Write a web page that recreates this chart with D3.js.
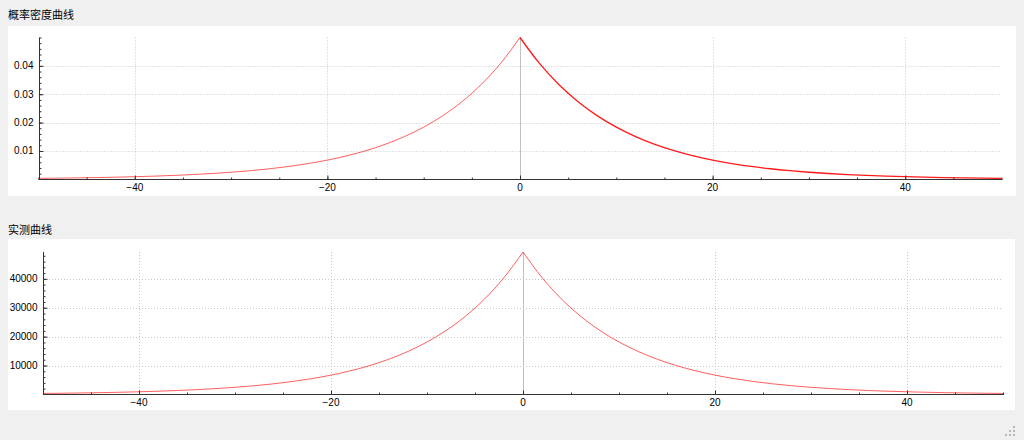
<!DOCTYPE html>
<html>
<head>
<meta charset="utf-8">
<script src="https://cdn.jsdelivr.net/npm/d3@7/dist/d3.min.js"></script>
<style>
  html, body { margin: 0; padding: 0; background: #f0f0f0; }
  svg { display: block; }
  text { font-family: "Liberation Sans", Arial, sans-serif; }
</style>
</head>
<body>
<svg id="chart" width="1024" height="440"></svg>
<script>
// ---- data ----
const titles = ["概率密度曲线", "实测曲线"];
const xValues = [-50,-48,-46,-44,-42,-40,-38,-36,-34,-32,-30,-28,-26,-24,-22,-20,-18,-16,-14,-12,-10,-8,-6,-4,-2,
                 0,2,4,6,8,10,12,14,16,18,20,22,24,26,28,30,32,34,36,38,40,42,44,46,48,50];
const densityValues = [0.000337,0.000411,0.000503,0.000614,0.000750,0.000916,0.001119,0.001366,0.001669,0.002038,
                       0.002489,0.003041,0.003714,0.004536,0.005540,0.006767,0.008265,0.010095,0.012330,0.015060,
                       0.018394,0.022466,0.027441,0.033516,0.040937,
                       0.05,
                       0.040937,0.033516,0.027441,0.022466,0.018394,0.015060,0.012330,0.010095,0.008265,0.006767,
                       0.005540,0.004536,0.003714,0.003041,0.002489,0.002038,0.001669,0.001366,0.001119,0.000916,
                       0.000750,0.000614,0.000503,0.000411,0.000337];
const measuredValues = [332,405,496,605,740,903,1103,1347,1646,2010,
                        2455,2998,3662,4472,5462,6672,8149,9954,12157,14849,
                        18137,22152,27057,33047,40364,
                        49300,
                        40364,33047,27057,22152,18137,14849,12157,9954,8149,6672,
                        5462,4472,3662,2998,2455,2010,1646,1347,1103,903,
                        740,605,496,405,332];
const xTicks = [-40, -20, 0, 20, 40];
const xMinorTicks = d3.range(-50, 51, 5);
const densityTicks = [0.01, 0.02, 0.03, 0.04];
const densityMinorTicks = d3.range(0.002, 0.0501, 0.002);
const measuredTicks = [10000, 20000, 30000, 40000];
const measuredMinorTicks = d3.range(2000, 49301, 2000);

const svg = d3.select("#chart");

function drawPanel(cfg) {
  const g = svg.append("g");
  g.append("rect").attr("x", cfg.panel[0]).attr("y", cfg.panel[1])
    .attr("width", cfg.panel[2]).attr("height", cfg.panel[3]).attr("fill", "#ffffff");
  g.append("text").attr("x", 8).attr("y", cfg.titleY)
    .style("font-family", "'Noto Sans CJK SC', sans-serif").style("font-size", "11px")
    .attr("fill", "#000").text(cfg.title);

  const x = d3.scaleLinear().domain([-50, 50]).range(cfg.xr);
  const y = d3.scaleLinear().domain(cfg.yDomain).range(cfg.yr);

  xTicks.forEach(t => {
    g.append("line").attr("x1", Math.round(x(t)) + 0.5).attr("x2", Math.round(x(t)) + 0.5)
      .attr("y1", y.range()[1]).attr("y2", y(0))
      .attr("stroke", t === 0 ? "#c0c0c0" : "#c8c8c8")
      .attr("stroke-dasharray", t === 0 ? null : "1,2");
  });
  cfg.yTicks.forEach(t => {
    g.append("line").attr("x1", x(-50)).attr("x2", x(50))
      .attr("y1", Math.round(y(t)) + 0.5).attr("y2", Math.round(y(t)) + 0.5)
      .attr("stroke", "#c8c8c8").attr("stroke-dasharray", "1,2");
  });

  const line = d3.line().x(d => x(d[0])).y(d => y(d[1])).curve(d3.curveMonotoneX);
  const pts = xValues.map((v, i) => [v, cfg.values[i]]);
  const left = pts.filter(p => p[0] <= 0), right = pts.filter(p => p[0] >= 0);
  g.append("path").attr("d", line(left)).attr("fill", "none")
    .attr("stroke", "#ff2a2a").attr("stroke-opacity", 0.75).attr("stroke-width", 1);
  g.append("path").attr("d", line(right)).attr("fill", "none")
    .attr("stroke", cfg.rightColor).attr("stroke-opacity", cfg.rightOpacity).attr("stroke-width", cfg.rightWidth);

  const ya = g.append("g").attr("transform", `translate(${Math.round(x(-50)) + 0.5},0)`);
  ya.call(d3.axisRight(y).tickValues(cfg.yMinor).tickSize(2).tickFormat(""));
  ya.append("g").call(d3.axisRight(y).tickValues(cfg.yTicks).tickSize(4).tickFormat(""));
  ya.selectAll("path.domain").remove();
  ya.selectAll("line").attr("stroke", "#333");
  ya.append("line").attr("x1", 0).attr("x2", 0).attr("y1", y.range()[1]).attr("y2", y(0) + 0.5).attr("stroke", "#333");
  cfg.yTicks.forEach(t => {
    ya.append("text").attr("x", -6).attr("y", y(t) + 3.5).attr("text-anchor", "end")
      .style("font-size", "10px").attr("fill", "#000").text(cfg.fmt(t));
  });

  const xa = g.append("g").attr("transform", `translate(0,${Math.round(y(0)) + 0.5})`);
  xa.call(d3.axisTop(x).tickValues(xMinorTicks).tickSize(2).tickFormat(""));
  xa.append("g").call(d3.axisTop(x).tickValues(xTicks).tickSize(4).tickFormat(""));
  xa.selectAll("path.domain").remove();
  xa.selectAll("line").attr("stroke", "#333");
  xa.append("line").attr("x1", x(-50)).attr("x2", x(50) + 1).attr("y1", 0).attr("y2", 0).attr("stroke", "#333");
  xTicks.forEach(t => {
    xa.append("text").attr("x", x(t)).attr("y", 11).attr("text-anchor", "middle")
      .style("font-size", "10px").attr("fill", "#000").text(t < 0 ? "\u2212" + Math.abs(t) : t);
  });
}

drawPanel({
  title: titles[0], titleY: 19, panel: [8, 26, 1008, 170],
  xr: [38.5, 1001.5], yDomain: [0, 0.05], yr: [179.3, 37.5],
  values: densityValues, yTicks: densityTicks, yMinor: densityMinorTicks,
  fmt: d => d3.format(".2f")(d), rightWidth: 1.3, rightColor: "#ff0000", rightOpacity: 0.9
});
drawPanel({
  title: titles[1], titleY: 234, panel: [8, 239, 1007, 171],
  xr: [43, 1003], yDomain: [0, 49300], yr: [394.4, 252],
  values: measuredValues, yTicks: measuredTicks, yMinor: measuredMinorTicks,
  fmt: d => String(d), rightWidth: 1, rightColor: "#ff2a2a", rightOpacity: 0.75
});

const grip = [[1013,426],[1009,430],[1013,430],[1005,434],[1009,434],[1013,434]];
svg.selectAll("rect.grip").data(grip).enter().append("rect").attr("class", "grip")
  .attr("x", d => d[0]).attr("y", d => d[1]).attr("width", 2).attr("height", 2).attr("fill", "#b8b8b8");
</script>
</body>
</html>
